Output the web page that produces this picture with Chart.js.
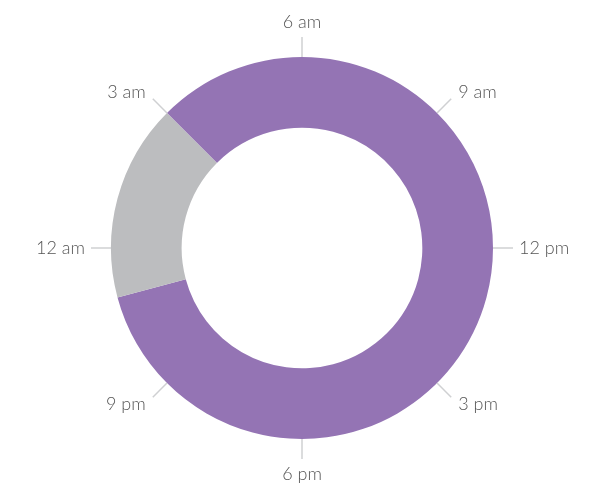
<!DOCTYPE html>
<html lang="en">
<head>
  <meta charset="UTF-8" />
  <title>Daily cycle</title>
  <script src="https://cdn.jsdelivr.net/npm/chart.js"></script>
  <style>
    html, body { margin: 0; padding: 0; background: #fff; }
    #wrap { width: 609px; height: 485px; }
  </style>
</head>
<body>
  <div id="wrap"><canvas id="clock"></canvas></div>
  <script>
    // segments, clockwise from 3 am
    const segmentNames = ['Awake', 'Asleep'];
    const segmentHours = [20, 4];
    const segmentColors = ['#9474b4', '#bcbdbf'];
    const startHour = 3;

    // clock tick labels (hour of day, 0-23)
    const tickHours = [6, 9, 12, 15, 18, 21, 0, 3];
    const tickLabels = ['6 am', '9 am', '12 pm', '3 pm', '6 pm', '9 pm', '12 am', '3 am'];

    // 6 am sits at the top
    const hourToDeg = h => ((h - 6 + 24) % 24) * 15;

    const clockTicks = {
      id: 'clockTicks',
      afterDatasetsDraw(chart) {
        const arc = chart.getDatasetMeta(0).data[0];
        if (!arc) return;
        const ctx = chart.ctx;
        const cx = arc.x, cy = arc.y, r = arc.outerRadius;
        ctx.save();
        tickHours.forEach((h, i) => {
          const a = (hourToDeg(h) - 90) * Math.PI / 180;
          const cos = Math.cos(a), sin = Math.sin(a);
          ctx.strokeStyle = '#cfd0d2';
          ctx.lineWidth = 1.5;
          ctx.beginPath();
          ctx.moveTo(cx + cos * r, cy + sin * r);
          ctx.lineTo(cx + cos * (r + 20), cy + sin * (r + 20));
          ctx.stroke();

          const diag = Math.abs(cos) > 0.1 && Math.abs(sin) > 0.1;
          const tr = r + (diag ? 30 : 26);
          const tx = cx + cos * tr, ty = cy + sin * tr;
          ctx.fillStyle = '#555';
          ctx.font = '300 18px Lato, "Open Sans", sans-serif';
          ctx.textAlign = Math.abs(cos) < 0.1 ? 'center' : (cos > 0 ? 'left' : 'right');
          ctx.textBaseline = Math.abs(sin) < 0.1 ? 'middle' : (sin > 0.9 ? 'top' : (sin < -0.9 ? 'bottom' : 'middle'));
          ctx.fillText(tickLabels[i], tx, ty);
        });
        ctx.restore();
      }
    };

    new Chart(document.getElementById('clock'), {
      type: 'doughnut',
      data: {
        labels: segmentNames,
        datasets: [{
          data: segmentHours,
          backgroundColor: segmentColors,
          borderWidth: 0
        }]
      },
      options: {
        responsive: true,
        maintainAspectRatio: false,
        animation: false,
        rotation: hourToDeg(startHour),
        cutout: '63%',
        layout: { padding: { top: 57, bottom: 46, left: 111, right: 116 } },
        plugins: {
          legend: { display: false },
          tooltip: { enabled: false }
        }
      },
      plugins: [clockTicks]
    });
  </script>
</body>
</html>
